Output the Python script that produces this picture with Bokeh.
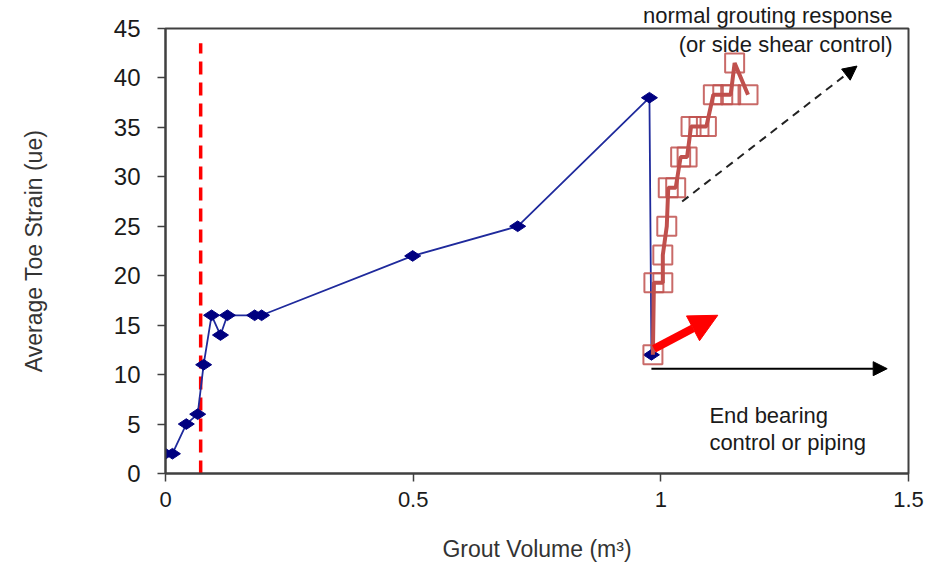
from bokeh.plotting import figure
from bokeh.models import Range1d, FixedTicker, Label, Arrow, NormalHead, Title
from bokeh.embed import file_html
from bokeh.resources import INLINE

# ---- data ----
blue_x = [0.0, 0.014, 0.042, 0.065, 0.077, 0.093, 0.111, 0.125, 0.180, 0.194, 0.499, 0.711, 0.977, 0.981]
blue_y = [2, 2, 5, 6, 11, 16, 14, 16, 16, 16, 22, 25, 38, 12]

red_x = [0.984, 0.986, 1.004, 1.004, 1.012, 1.015, 1.030, 1.040, 1.053, 1.061, 1.077,
         1.092, 1.106, 1.125, 1.141, 1.149, 1.176]
red_y = [12, 19.3, 19.3, 22.1, 25.0, 28.9, 28.9, 32.0, 32.0, 35.1, 35.1,
         35.1, 38.3, 38.3, 38.3, 41.5, 38.3]

threshold_x = [0.071, 0.071]
threshold_y = [0, 43.5]

x_ticks = [0, 0.5, 1, 1.5]
x_tick_labels = ["0", "0.5", "1", "1.5"]
y_ticks = [0, 5, 10, 15, 20, 25, 30, 35, 40, 45]

# annotation arrows (data coordinates)
red_arrow = (0.986, 12.6, 1.115, 16.0)
flat_arrow = (0.981, 10.6, 1.457, 10.6)
rise_arrow = (1.043, 27.5, 1.396, 41.2)

FONT = "Liberation Sans"

p = figure(width=946, height=566, output_backend="svg", toolbar_location=None,
           x_range=Range1d(0, 1.5), y_range=Range1d(0, 45),
           min_border_left=165, min_border_right=38, min_border_top=27, min_border_bottom=93)
p.background_fill_color = "white"
p.border_fill_color = "white"
p.grid.visible = False
p.outline_line_color = "#404040"
p.outline_line_width = 2

for ax in (p.xaxis[0], p.yaxis[0]):
    ax.axis_line_color = "#404040"
    ax.axis_line_width = 2
    ax.major_tick_line_color = "#404040"
    ax.major_tick_line_width = 1.5
    ax.major_tick_out = 8
    ax.major_tick_in = 0
    ax.minor_tick_line_color = None
    ax.major_label_text_font = FONT
    ax.major_label_text_color = "#1a1a1a"
    ax.axis_label_text_font = FONT
    ax.axis_label_text_font_size = "23px"
    ax.axis_label_text_font_style = "normal"
    ax.axis_label_text_color = "#333333"

p.xaxis.major_label_text_font_size = "22px"
p.yaxis.major_label_text_font_size = "24px"
p.xaxis.ticker = FixedTicker(ticks=x_ticks)
p.xaxis.major_label_overrides = {t: s for t, s in zip(x_ticks, x_tick_labels)}
p.yaxis.ticker = FixedTicker(ticks=y_ticks)
p.xaxis.axis_label = "Grout Volume (m\u00b3)"
p.yaxis.axis_label = "Average Toe Strain (ue)"
p.xaxis.major_label_standoff = 10
p.yaxis.major_label_standoff = 17
p.xaxis.axis_label_standoff = 26
p.yaxis.axis_label_standoff = 64

# top annotation line (sits above the frame)
p.add_layout(Title(text="normal grouting response", align="right", offset=16, standoff=1,
                   text_font=FONT, text_font_size="22px", text_font_style="normal",
                   text_color="#1a1a1a"), "above")

# threshold dashed line
p.line(threshold_x, threshold_y, line_color="#ff0000", line_width=3.5, line_dash="13 8")

# blue series
p.line(blue_x, blue_y, line_color="#1f2a9c", line_width=1.8)
p.scatter(blue_x, blue_y, marker="diamond", size=16, angle=1.5708,
          fill_color="#000080", line_color="#000080")

# red series
p.line(red_x, red_y, line_color="#c0504d", line_width=4)
p.scatter(red_x, red_y, marker="square", size=19, fill_color=None,
          line_color="#c0504d", line_alpha=0.85, line_width=2)

# arrows
p.add_layout(Arrow(x_start=red_arrow[0], y_start=red_arrow[1], x_end=red_arrow[2], y_end=red_arrow[3],
                   line_color="#ff0000", line_width=8,
                   end=NormalHead(size=28, fill_color="#ff0000", line_color="#ff0000")))
p.add_layout(Arrow(x_start=flat_arrow[0], y_start=flat_arrow[1], x_end=flat_arrow[2], y_end=flat_arrow[3],
                   line_color="#000000", line_width=2,
                   end=NormalHead(size=14, fill_color="#000000", line_color="#000000")))
p.add_layout(Arrow(x_start=rise_arrow[0], y_start=rise_arrow[1], x_end=rise_arrow[2], y_end=rise_arrow[3],
                   line_color="#222222", line_width=2, line_dash="8 6",
                   end=NormalHead(size=14, fill_color="#000000", line_color="#000000")))

# text annotations
for txt, x, y, align in [("(or side shear control)", 1.468, 43.4, "right"),
                         ("End bearing", 1.098, 5.85, "left"),
                         ("control or piping", 1.098, 3.13, "left")]:
    p.add_layout(Label(x=x, y=y, text=txt, text_align=align, text_baseline="middle",
                       text_font=FONT, text_font_size="22px", text_color="#1a1a1a"))

open("out.html", "w").write(file_html(p, INLINE))
